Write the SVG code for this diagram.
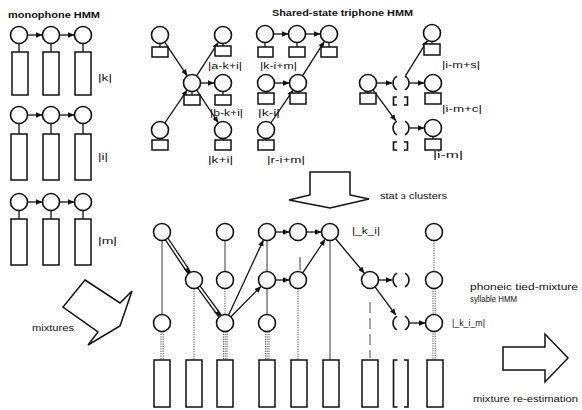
<svg xmlns="http://www.w3.org/2000/svg" width="582" height="410" viewBox="0 0 582 410">
<defs>
<marker id="ah" markerWidth="7" markerHeight="6" refX="6" refY="3" orient="auto" markerUnits="userSpaceOnUse"><path d="M0,0.3 L6.5,3 L0,5.7 z" fill="#111"/></marker>
<style>
.c{fill:#fff;stroke:#111;stroke-width:1.6}
.r{fill:#fff;stroke:#111;stroke-width:1.5}
.h{fill:none;stroke:#111;stroke-width:1.6}
.e{stroke:#111;stroke-width:1.3;fill:none}
.a{stroke:#111;stroke-width:1.3;fill:none;marker-end:url(#ah)}
.ab{stroke:#111;stroke-width:4.4;fill:none;marker-end:url(#ah)}
.aw{stroke:#fff;stroke-width:1.8;fill:none}
.th{stroke:#222;stroke-width:0.9;fill:none}
.d{stroke:#333;stroke-width:0.9;stroke-dasharray:1.2 1.2;fill:none}
.ds{stroke:#333;stroke-width:0.9;stroke-dasharray:11 5;fill:none}
.big{fill:#fff;stroke:#111;stroke-width:1.5;stroke-linejoin:miter}
.t{font-family:"Liberation Sans",Arial,sans-serif;font-size:9px;fill:#111}
.b{font-weight:bold}
</style>
</defs>

<!-- titles and labels -->
<g id="labels">
<text class="t b" x="8" y="18" textLength="92" lengthAdjust="spacingAndGlyphs">monophone HMM</text>
<text class="t b" x="272" y="16" textLength="141" lengthAdjust="spacingAndGlyphs">Shared-state triphone HMM</text>
<text class="t" x="98" y="81" textLength="14" lengthAdjust="spacingAndGlyphs">|k|</text>
<text class="t" x="98" y="160" textLength="10" lengthAdjust="spacingAndGlyphs">|i|</text>
<text class="t" x="98" y="244" textLength="19" lengthAdjust="spacingAndGlyphs">|m|</text>
<text class="t" x="208" y="69" textLength="34" lengthAdjust="spacingAndGlyphs">|a-k+i|</text>
<text class="t" x="260" y="69" textLength="37" lengthAdjust="spacingAndGlyphs">|k-i+m|</text>
<text class="t" x="210" y="116" textLength="33" lengthAdjust="spacingAndGlyphs">|b-k+i|</text>
<text class="t" x="258" y="116" textLength="22" lengthAdjust="spacingAndGlyphs">|k-i|</text>
<text class="t" x="208" y="163" textLength="25" lengthAdjust="spacingAndGlyphs">|k+i|</text>
<text class="t" x="267" y="163" textLength="38" lengthAdjust="spacingAndGlyphs">|r-i+m|</text>
<text class="t" x="442" y="68" textLength="38" lengthAdjust="spacingAndGlyphs">|i-m+s|</text>
<text class="t" x="442" y="112" textLength="40" lengthAdjust="spacingAndGlyphs">|i-m+c|</text>
<text class="t" x="433" y="158" textLength="30" lengthAdjust="spacingAndGlyphs">|i-m|</text>
<text class="t" x="380" y="199" textLength="67" lengthAdjust="spacingAndGlyphs">stat ɜ clusters</text>
<text class="t" x="352" y="234" textLength="28" lengthAdjust="spacingAndGlyphs">|_k_i|</text>
<text class="t" x="470" y="290" textLength="108" lengthAdjust="spacingAndGlyphs">phoneic tied-mixture</text>
<text class="t" x="470" y="302" textLength="47" lengthAdjust="spacingAndGlyphs">syllable HMM</text>
<text class="t" x="452" y="326" textLength="33" lengthAdjust="spacingAndGlyphs">|_k_i_m|</text>
<text class="t" x="32" y="331" textLength="42" lengthAdjust="spacingAndGlyphs">mixtures</text>
<text class="t" x="473" y="402" textLength="105" lengthAdjust="spacingAndGlyphs">mixture re-estimation</text>
</g>

<!-- big arrows -->
<g id="arrow-mixtures"><polygon class="big" points="85,280 120,303 132,291 120,326 88,345 98,332 63,307"/></g>
<g id="arrow-clusters"><polygon class="big" points="310,172 350,172 350,195 369,199 330,208 289,200 310,195"/></g>
<g id="arrow-reestimation"><polygon class="big" points="503,347 545,347 545,334 568,358 545,382 545,370 503,370"/></g>

<!-- connectors -->
<g id="connectors">
<!-- monophone -->
<line class="a" x1="27.5" y1="35" x2="42" y2="35"/>
<line class="a" x1="59.5" y1="35" x2="74" y2="35"/>
<line class="a" x1="27.5" y1="115" x2="42" y2="115"/>
<line class="a" x1="59.5" y1="115" x2="74" y2="115"/>
<line class="a" x1="27.5" y1="202" x2="42" y2="202"/>
<line class="a" x1="59.5" y1="202" x2="74" y2="202"/>
<!-- triphone group 1 -->
<line class="a" x1="164.7" y1="42.1" x2="187.1" y2="75.6"/>
<line class="a" x1="164.8" y1="123" x2="187.1" y2="90.2"/>
<line class="a" x1="196.6" y1="75.9" x2="218.1" y2="42.6"/>
<line class="a" x1="200.5" y1="83" x2="214" y2="83"/>
<line class="a" x1="196.7" y1="90.1" x2="218.1" y2="122.5"/>
<!-- triphone group 2 -->
<line class="a" x1="273.5" y1="34" x2="288" y2="34"/>
<line class="a" x1="305.5" y1="34" x2="320" y2="34"/>
<line class="a" x1="274.5" y1="83" x2="289" y2="83"/>
<line class="a" x1="270.8" y1="123" x2="293" y2="90.4"/>
<line class="a" x1="302.5" y1="75.8" x2="324.2" y2="41.6"/>
<!-- triphone group 3 -->
<line class="a" x1="376.5" y1="83" x2="392" y2="83"/>
<line class="a" x1="373" y1="89.9" x2="395.7" y2="120.7"/>
<line class="a" x1="409.5" y1="83" x2="424" y2="83"/>
<line class="a" x1="405.5" y1="75.8" x2="427.3" y2="40.7"/>
<line class="a" x1="409.5" y1="128" x2="424" y2="128"/>
<!-- bottom network: vertical state-to-mixture links -->
<line class="th" x1="162" y1="240.5" x2="162" y2="314.5"/>
<line class="d" x1="161" y1="331.5" x2="161" y2="360"/>
<line class="d" x1="163.2" y1="331.5" x2="163.2" y2="360"/>
<line class="d" x1="194" y1="288.5" x2="194" y2="360"/>
<line class="th" x1="225" y1="240.5" x2="225" y2="271.5"/>
<line class="d" x1="225" y1="288.5" x2="225" y2="314.5"/>
<line class="d" x1="223.4" y1="331.5" x2="223.4" y2="360"/>
<line class="d" x1="225.2" y1="331.5" x2="225.2" y2="360"/>
<line class="d" x1="227" y1="331.5" x2="227" y2="360"/>
<line class="th" x1="267" y1="240.5" x2="267" y2="271.5"/>
<line class="th" x1="267" y1="288.5" x2="267" y2="314.5"/>
<line class="d" x1="265.4" y1="331.5" x2="265.4" y2="360"/>
<line class="d" x1="267.2" y1="331.5" x2="267.2" y2="360"/>
<line class="d" x1="269" y1="331.5" x2="269" y2="360"/>
<line class="th" x1="300" y1="257" x2="300" y2="270"/>
<line class="d" x1="298" y1="288.5" x2="298" y2="360"/>
<line class="th" x1="330" y1="240.5" x2="330" y2="360"/>
<line class="ds" x1="370" y1="302" x2="370" y2="358"/>
<line class="d" x1="434" y1="240.5" x2="434" y2="271.5"/>
<line class="d" x1="433" y1="288.5" x2="433" y2="314"/>
<line class="d" x1="435.2" y1="288.5" x2="435.2" y2="314"/>
<line class="d" x1="433" y1="331" x2="433" y2="360"/>
<line class="d" x1="435.2" y1="331" x2="435.2" y2="360"/>
<!-- bottom network transitions -->
<line class="ab" x1="166.7" y1="239.1" x2="189.1" y2="272.6"/>
<line class="aw" x1="166.7" y1="239.1" x2="186.5" y2="268.6"/>
<line class="ab" x1="198.9" y1="287" x2="219.8" y2="315.6"/>
<line class="aw" x1="198.9" y1="287" x2="217" y2="311.7"/>
<line class="a" x1="228.5" y1="315.3" x2="263.3" y2="240.2"/>
<line class="a" x1="230.9" y1="316.8" x2="260.8" y2="286.5"/>
<line class="a" x1="275.5" y1="232" x2="289" y2="232"/>
<line class="a" x1="306.5" y1="232" x2="321" y2="232"/>
<line class="a" x1="275.5" y1="280" x2="289" y2="280"/>
<line class="a" x1="302.7" y1="272.9" x2="325" y2="239.5"/>
<line class="a" x1="335.4" y1="238.5" x2="364.2" y2="273"/>
<line class="a" x1="378.5" y1="280" x2="392" y2="280"/>
<line class="a" x1="375" y1="286.8" x2="395.7" y2="314.8"/>
<line class="a" x1="409.5" y1="323" x2="425" y2="323"/>
</g>

<!-- monophone HMM nodes -->
<g id="mono-k">
<line class="e" x1="19" y1="43.5" x2="19" y2="52"/><line class="e" x1="51" y1="43.5" x2="51" y2="52"/><line class="e" x1="83" y1="43.5" x2="83" y2="52"/>
<circle class="c" cx="19" cy="35" r="8.5"/><circle class="c" cx="51" cy="35" r="8.5"/><circle class="c" cx="83" cy="35" r="8.5"/>
<rect class="r" x="12" y="52" width="16" height="43"/><rect class="r" x="43" y="52" width="16" height="43"/><rect class="r" x="75" y="52" width="16" height="43"/>
</g>
<g id="mono-i">
<line class="e" x1="19" y1="123.5" x2="19" y2="134"/><line class="e" x1="51" y1="123.5" x2="51" y2="134"/><line class="e" x1="83" y1="123.5" x2="83" y2="134"/>
<circle class="c" cx="19" cy="115" r="8.5"/><circle class="c" cx="51" cy="115" r="8.5"/><circle class="c" cx="83" cy="115" r="8.5"/>
<rect class="r" x="11" y="134" width="16" height="46"/><rect class="r" x="43" y="134" width="16" height="46"/><rect class="r" x="75" y="134" width="16" height="46"/>
</g>
<g id="mono-m">
<line class="e" x1="19" y1="210.5" x2="19" y2="219"/><line class="e" x1="51" y1="210.5" x2="51" y2="219"/><line class="e" x1="83" y1="210.5" x2="83" y2="219"/>
<circle class="c" cx="19" cy="202" r="8.5"/><circle class="c" cx="51" cy="202" r="8.5"/><circle class="c" cx="83" cy="202" r="8.5"/>
<rect class="r" x="11" y="219" width="16" height="46"/><rect class="r" x="43" y="219" width="16" height="46"/><rect class="r" x="75" y="219" width="16" height="46"/>
</g>

<!-- triphone group 1 -->
<g id="tri1-tl"><line class="e" x1="160" y1="43.5" x2="160" y2="47"/><circle class="c" cx="160" cy="35" r="8.5"/><rect class="r" x="152" y="47" width="16" height="10"/></g>
<g id="tri1-tr"><line class="e" x1="223" y1="43.5" x2="223" y2="46"/><circle class="c" cx="223" cy="35" r="8.5"/><rect class="r" x="215" y="46" width="16" height="10"/></g>
<g id="tri1-c"><line class="e" x1="192" y1="91.5" x2="192" y2="95"/><circle class="c" cx="192" cy="83" r="8.5"/><rect class="r" x="184" y="95" width="16" height="10"/></g>
<g id="tri1-r"><line class="e" x1="223" y1="91.5" x2="223" y2="95"/><circle class="c" cx="223" cy="83" r="8.5"/><rect class="r" x="215" y="95" width="16" height="10"/></g>
<g id="tri1-bl"><line class="e" x1="160" y1="138.5" x2="160" y2="140"/><circle class="c" cx="160" cy="130" r="8.5"/><rect class="r" x="152" y="140" width="16" height="10"/></g>
<g id="tri1-br"><line class="e" x1="223" y1="138.5" x2="223" y2="140"/><circle class="c" cx="223" cy="130" r="8.5"/><rect class="r" x="215" y="140" width="16" height="10"/></g>

<!-- triphone group 2 -->
<g id="tri2-t1"><line class="e" x1="265" y1="42.5" x2="265" y2="47"/><circle class="c" cx="265" cy="34" r="8.5"/><rect class="r" x="258" y="47" width="15" height="10"/></g>
<g id="tri2-t2"><line class="e" x1="297" y1="42.5" x2="297" y2="47"/><circle class="c" cx="297" cy="34" r="8.5"/><rect class="r" x="289" y="47" width="16" height="10"/></g>
<g id="tri2-t3"><line class="e" x1="329" y1="42.5" x2="329" y2="47"/><circle class="c" cx="329" cy="34" r="8.5"/><rect class="r" x="321" y="47" width="16" height="10"/></g>
<g id="tri2-m1"><line class="e" x1="266" y1="91.5" x2="266" y2="93"/><circle class="c" cx="266" cy="83" r="8.5"/><rect class="r" x="258" y="93" width="16" height="11"/></g>
<g id="tri2-m2"><line class="e" x1="298" y1="91.5" x2="298" y2="93"/><circle class="c" cx="298" cy="83" r="8.5"/><rect class="r" x="290" y="93" width="16" height="11"/></g>
<g id="tri2-b1"><line class="e" x1="266" y1="138.5" x2="266" y2="140"/><circle class="c" cx="266" cy="130" r="8.5"/><rect class="r" x="258" y="140" width="16" height="10"/></g>

<!-- triphone group 3 -->
<g id="tri3-l"><line class="e" x1="368" y1="91.5" x2="368" y2="93"/><circle class="c" cx="368" cy="83" r="8.5"/><rect class="r" x="360" y="93" width="16" height="11"/></g>
<g id="tri3-h1"><path class="h" d="M397,76.1 A8,8 0 0 0 397,89.9 M405,76.1 A8,8 0 0 1 405,89.9"/><path class="h" d="M397,97 L393.5,97 L393.5,105 L397,105 M404,97 L407.5,97 L407.5,105 L404,105"/></g>
<g id="tri3-r1"><line class="e" x1="433" y1="91.5" x2="433" y2="93"/><circle class="c" cx="433" cy="83" r="8.5"/><rect class="r" x="425" y="93" width="16" height="11"/></g>
<g id="tri3-t"><line class="e" x1="432" y1="41.5" x2="432" y2="44"/><circle class="c" cx="432" cy="33" r="8.5"/><rect class="r" x="424" y="44" width="16" height="11"/></g>
<g id="tri3-h2"><path class="h" d="M397,121.1 A8,8 0 0 0 397,134.9 M405,121.1 A8,8 0 0 1 405,134.9"/><path class="h" d="M397,142 L393.5,142 L393.5,150 L397,150 M404,142 L407.5,142 L407.5,150 L404,150"/></g>
<g id="tri3-r2"><line class="e" x1="433" y1="136.5" x2="433" y2="139"/><circle class="c" cx="433" cy="128" r="8.5"/><rect class="r" x="425" y="139" width="16" height="11"/></g>

<!-- tied-mixture syllable HMM states -->
<g id="s-c1"><circle class="c" cx="162" cy="232" r="8.5"/></g>
<g id="s-c3"><circle class="c" cx="225" cy="232" r="8.5"/></g>
<g id="s-c4"><circle class="c" cx="267" cy="232" r="8.5"/></g>
<g id="s-c5"><circle class="c" cx="298" cy="232" r="8.5"/></g>
<g id="s-c6"><circle class="c" cx="330" cy="232" r="8.5"/></g>
<g id="s-c9"><circle class="c" cx="434" cy="232" r="8.5"/></g>
<g id="s-b2"><circle class="c" cx="194" cy="280" r="8.5"/></g>
<g id="s-b3"><circle class="c" cx="225" cy="280" r="8.5"/></g>
<g id="s-b4"><circle class="c" cx="267" cy="280" r="8.5"/></g>
<g id="s-b5"><circle class="c" cx="298" cy="280" r="8.5"/></g>
<g id="s-b7"><circle class="c" cx="370" cy="280" r="8.5"/></g>
<g id="s-h8a"><path class="h" d="M397,273.1 A8,8 0 0 0 397,286.9 M405,273.1 A8,8 0 0 1 405,286.9"/></g>
<g id="s-b9"><circle class="c" cx="434" cy="280" r="8.5"/></g>
<g id="s-a1"><circle class="c" cx="162" cy="323" r="8.5"/></g>
<g id="s-a3"><circle class="c" cx="225" cy="323" r="8.5"/></g>
<g id="s-a4"><circle class="c" cx="267" cy="323" r="8.5"/></g>
<g id="s-h8b"><path class="h" d="M397,316.1 A8,8 0 0 0 397,329.9 M405,316.1 A8,8 0 0 1 405,329.9"/></g>
<g id="s-a9"><circle class="c" cx="434" cy="323" r="8.5"/></g>

<!-- mixture codebooks -->
<g id="m1"><rect class="r" x="154" y="360" width="16" height="47"/></g>
<g id="m2"><rect class="r" x="186" y="360" width="16" height="47"/></g>
<g id="m3"><rect class="r" x="217" y="360" width="16" height="47"/></g>
<g id="m4"><rect class="r" x="259" y="360" width="16" height="47"/></g>
<g id="m5"><rect class="r" x="291" y="360" width="16" height="47"/></g>
<g id="m6"><rect class="r" x="323" y="360" width="16" height="47"/></g>
<g id="m7"><rect class="r" x="362" y="360" width="16" height="47"/></g>
<g id="m8"><path class="h" d="M397.5,360 L393.5,360 L393.5,407 L397.5,407 M404,360 L408,360 L408,407 L404,407"/></g>
<g id="m9"><rect class="r" x="427" y="360" width="16" height="47"/></g>
</svg>
